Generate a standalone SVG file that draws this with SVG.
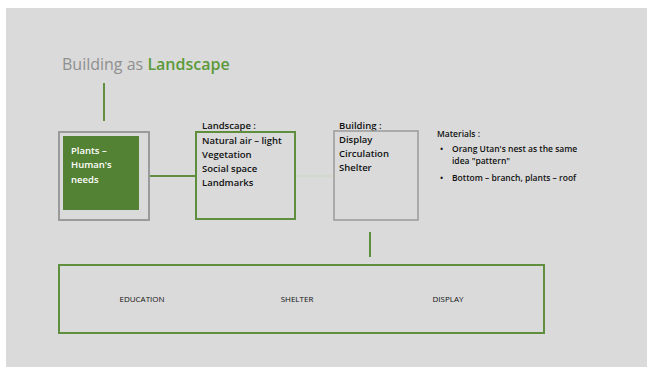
<svg xmlns="http://www.w3.org/2000/svg" width="647" height="367" viewBox="0 0 647 367">
<style>
text{font-family:"Open Sans","Liberation Sans",sans-serif;}
.t{font-size:9.5px;fill:#111;font-weight:600;}
.w{font-size:9.5px;fill:#fff;font-weight:600;}
.b{font-size:8.5px;fill:#111;font-weight:600;}
.c{font-size:8px;fill:#111;}
.g{stroke:#5f8f3e;fill:none;}
</style>
<rect x="0" y="0" width="647" height="367" fill="#fff"/>
<rect x="6" y="8" width="641" height="359" fill="#dadada"/>
<text x="62" y="70" font-size="16" fill="#8f8f8f">Building as <tspan fill="#5a9a3a" font-weight="600">Landscape</tspan></text>
<g id="connectors">
<line x1="104" y1="83" x2="104" y2="121" class="g" stroke-width="2"/>
<line x1="149" y1="176" x2="196" y2="176" class="g" stroke-width="2"/>
<line x1="295" y1="176" x2="334" y2="176" stroke="#c8d8bc" stroke-width="1"/>
<line x1="370" y1="232" x2="370" y2="257" class="g" stroke-width="2"/>
</g>
<g id="plants">
<rect x="59" y="132" width="90" height="88" fill="none" stroke="#9a9a9a" stroke-width="2"/>
<rect x="63" y="136" width="76" height="74" fill="#548235"/>
<text class="w" x="71" y="154">Plants –</text>
<text class="w" x="71" y="168">Human's</text>
<text class="w" x="71" y="183">needs</text>
</g>
<g id="landscape">
<text class="t" x="202" y="129">Landscape :</text>
<rect x="196" y="132" width="99" height="87" class="g" stroke-width="2"/>
<text class="t" x="202" y="144">Natural air – light</text>
<text class="t" x="202" y="158">Vegetation</text>
<text class="t" x="202" y="172">Social space</text>
<text class="t" x="202" y="186">Landmarks</text>
</g>
<g id="building">
<text class="t" x="339" y="129">Building :</text>
<rect x="334" y="131" width="84" height="89" fill="none" stroke="#9a9a9a" stroke-width="1.5"/>
<text class="t" x="339" y="143">Display</text>
<text class="t" x="339" y="157">Circulation</text>
<text class="t" x="339" y="171">Shelter</text>
</g>
<g id="materials">
<text class="b" x="437" y="137">Materials :</text>
<text class="b" x="440" y="152">•</text>
<text class="b" x="452" y="152">Orang Utan's nest as the same</text>
<text class="b" x="452" y="164">idea "pattern"</text>
<text class="b" x="440" y="181">•</text>
<text class="b" x="452" y="181">Bottom – branch, plants – roof</text>
</g>
<g id="functions">
<rect x="59" y="265" width="485" height="68" class="g" stroke-width="2"/>
<text class="c" x="142" y="302" text-anchor="middle">EDUCATION</text>
<text class="c" x="297" y="302" text-anchor="middle">SHELTER</text>
<text class="c" x="448" y="302" text-anchor="middle">DISPLAY</text>
</g>
</svg>
